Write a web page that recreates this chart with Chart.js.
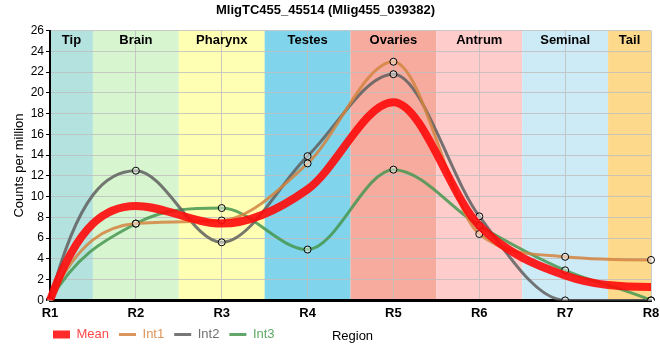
<!DOCTYPE html>
<html>
<head>
<meta charset="utf-8">
<script src="https://cdn.jsdelivr.net/npm/chart.js@4/dist/chart.umd.min.js"></script>
<style>
  html, body { margin: 0; padding: 0; background: #fff; }
  #wrap { width: 660px; height: 360px; }
</style>
</head>
<body>
<div id="wrap"><canvas id="LineChart" width="660" height="360"></canvas></div>
<script>
const regions = ['R1', 'R2', 'R3', 'R4', 'R5', 'R6', 'R7', 'R8'];
const int1 = [0, 7.4, 7.7, 13.2, 23.0, 6.4, 4.2, 3.9];
const int2 = [0, 12.5, 5.6, 13.9, 21.8, 8.1, 0, 0];
const int3 = [0, 7.4, 8.9, 4.9, 12.6, 7.2, 2.9, 0];
const mean = [0, 9.1, 7.4, 10.7, 19.1, 7.2, 2.4, 1.3];
const tissues = ['Tip', 'Brain', 'Pharynx', 'Testes', 'Ovaries', 'Antrum', 'Seminal', 'Tail'];
const tissueColors = ['#b4e2de', '#d7f6cf', '#ffffb4', '#80d5ec', '#f6ab9e', '#ffcccc', '#cdebf6', '#fdd98b'];

const sans = "'Liberation Sans', Arial, sans-serif";
Chart.defaults.font.family = sans;
Chart.defaults.color = '#000';

// steeper end tangents, like the original smoothing
function endTangent(s, mIn) {
    if (s === 0) return 0;
    let m = 2.5 * s - mIn;
    if (m / s < 0) m = 0;
    if (Math.abs(m) > 3 * Math.abs(s)) m = 3 * s;
    return m;
}

const endSmoothing = {
    id: 'endSmoothing',
    beforeDatasetDraw(chart, args) {
        const meta = args.meta;
        if (!meta.dataset) return;
        meta.dataset.updateControlPoints(chart.chartArea, 'x');
        const pts = meta.data;
        const n = pts.length;
        if (n < 3) return;
        const tan = p => (p.cp2y - p.cp1y) / ((p.cp2x - p.cp1x) || 1);
        let a = pts[0], b = pts[1];
        let h = b.x - a.x;
        let m = endTangent((b.y - a.y) / h, tan(b));
        a.cp2x = a.x + h / 3;
        a.cp2y = a.y + m * h / 3;
        a = pts[n - 2]; b = pts[n - 1];
        h = b.x - a.x;
        m = endTangent((b.y - a.y) / h, tan(a));
        b.cp1x = b.x - h / 3;
        b.cp1y = b.y - m * h / 3;
    }
};

const tissueBands = {
    id: 'tissueBands',
    afterLayout(chart) {
        const lg = chart.legend;
        lg.left += 43;
        lg.right += 43;
        lg.top -= 8;
        lg.bottom -= 8;
    },
    beforeDraw(chart) {
        const {ctx, chartArea: a, scales: {x}} = chart;
        ctx.save();
        tissues.forEach((name, i) => {
            const l = Math.max(a.left, x.getPixelForValue(i - 0.5));
            const r = Math.min(a.right, x.getPixelForValue(i + 0.5));
            ctx.fillStyle = tissueColors[i];
            ctx.fillRect(l, a.top, r - l, a.bottom - a.top);
        });
        ctx.restore();
    },
    beforeDatasetsDraw(chart) {
        const {ctx, chartArea: a, scales: {x}} = chart;
        ctx.save();
        ctx.font = 'bold 13px ' + sans;
        ctx.fillStyle = '#000';
        ctx.textAlign = 'center';
        ctx.textBaseline = 'middle';
        tissues.forEach((name, i) => {
            const l = Math.max(a.left, x.getPixelForValue(i - 0.5));
            const r = Math.min(a.right, x.getPixelForValue(i + 0.5));
            ctx.fillText(name, (l + r) / 2, a.top + 10);
        });
        ctx.restore();
    },
    afterDraw(chart) {
        const {ctx, chartArea: a} = chart;
        ctx.save();
        ctx.font = '13px ' + sans;
        ctx.fillStyle = '#000';
        ctx.textAlign = 'center';
        ctx.textBaseline = 'middle';
        ctx.fillText('Region', (a.left + a.right) / 2 + 2, chart.legend.top + 10 + 8);
        ctx.restore();
    }
};

const marker = {
    pointRadius: 3.5,
    pointBorderColor: '#000',
    pointBorderWidth: 1,
    pointBackgroundColor: 'rgba(255,255,255,0.45)',
    pointHoverRadius: 3.5
};

const ctx = document.getElementById('LineChart').getContext('2d');
const lineChart = new Chart(ctx, {
    type: 'line',
    data: {
        labels: regions,
        datasets: [{
            label: 'Mean',
            data: mean,
            borderColor: 'rgba(255,10,10,0.9)',
            borderWidth: 8,
            pointRadius: 0,
            cubicInterpolationMode: 'monotone',
            legendText: '#ff4a4a'
        }, {
            label: 'Int1',
            data: int1,
            borderColor: 'rgba(212,132,64,0.85)',
            borderWidth: 3,
            cubicInterpolationMode: 'monotone',
            legendText: '#e0955a',
            ...marker
        }, {
            label: 'Int2',
            data: int2,
            borderColor: 'rgba(95,95,95,0.85)',
            borderWidth: 3,
            cubicInterpolationMode: 'monotone',
            legendText: '#707070',
            ...marker
        }, {
            label: 'Int3',
            data: int3,
            borderColor: 'rgba(70,150,80,0.85)',
            borderWidth: 3,
            cubicInterpolationMode: 'monotone',
            legendText: '#5fa866',
            ...marker
        }]
    },
    options: {
        responsive: false,
        animation: false,
        layout: { autoPadding: false, padding: { left: 0, right: 9, top: 0, bottom: 1 } },
        plugins: {
            title: {
                display: true,
                text: 'MligTC455_45514 (Mlig455_039382)',
                font: { size: 13, weight: 'bold' },
                padding: { top: 3, bottom: 12 }
            },
            tooltip: { enabled: false },
            legend: {
                position: 'bottom',
                align: 'start',
                labels: {
                    usePointStyle: true,
                    pointStyleWidth: 17,
                    boxHeight: 8,
                    font: { size: 13 },
                    padding: 10,
                    generateLabels(chart) {
                        return chart.data.datasets.map((d, i) => ({
                            text: d.label,
                            fillStyle: i === 0 ? '#ff2b2b' : d.borderColor,
                            strokeStyle: i === 0 ? '#ff2b2b' : d.borderColor,
                            lineWidth: i === 0 ? 0 : 3,
                            pointStyle: i === 0 ? 'rect' : 'line',
                            fontColor: d.legendText,
                            datasetIndex: i
                        }));
                    }
                }
            }
        },
        scales: {
            x: {
                afterFit(scale) { scale.paddingLeft = 0; scale.paddingRight = 0; },
                grid: { color: 'rgba(190,190,190,0.8)', drawTicks: false },
                border: { color: '#000', width: 3 },
                ticks: { font: { size: 13, weight: 'bold' }, padding: 5 },
                title: { display: false }
            },
            y: {
                min: 0,
                max: 26,
                afterFit(scale) { scale.width = 50; },
                grid: { color: 'rgba(190,190,190,0.8)', tickColor: '#000', tickLength: 4 },
                border: { color: '#000', width: 2 },
                ticks: { stepSize: 2, font: { size: 12 }, padding: 2 },
                title: {
                    display: true,
                    text: 'Counts per million',
                    font: { size: 13 },
                    padding: { top: 12, bottom: 2 }
                }
            }
        }
    },
    plugins: [tissueBands, endSmoothing]
});
</script>
</body>
</html>
